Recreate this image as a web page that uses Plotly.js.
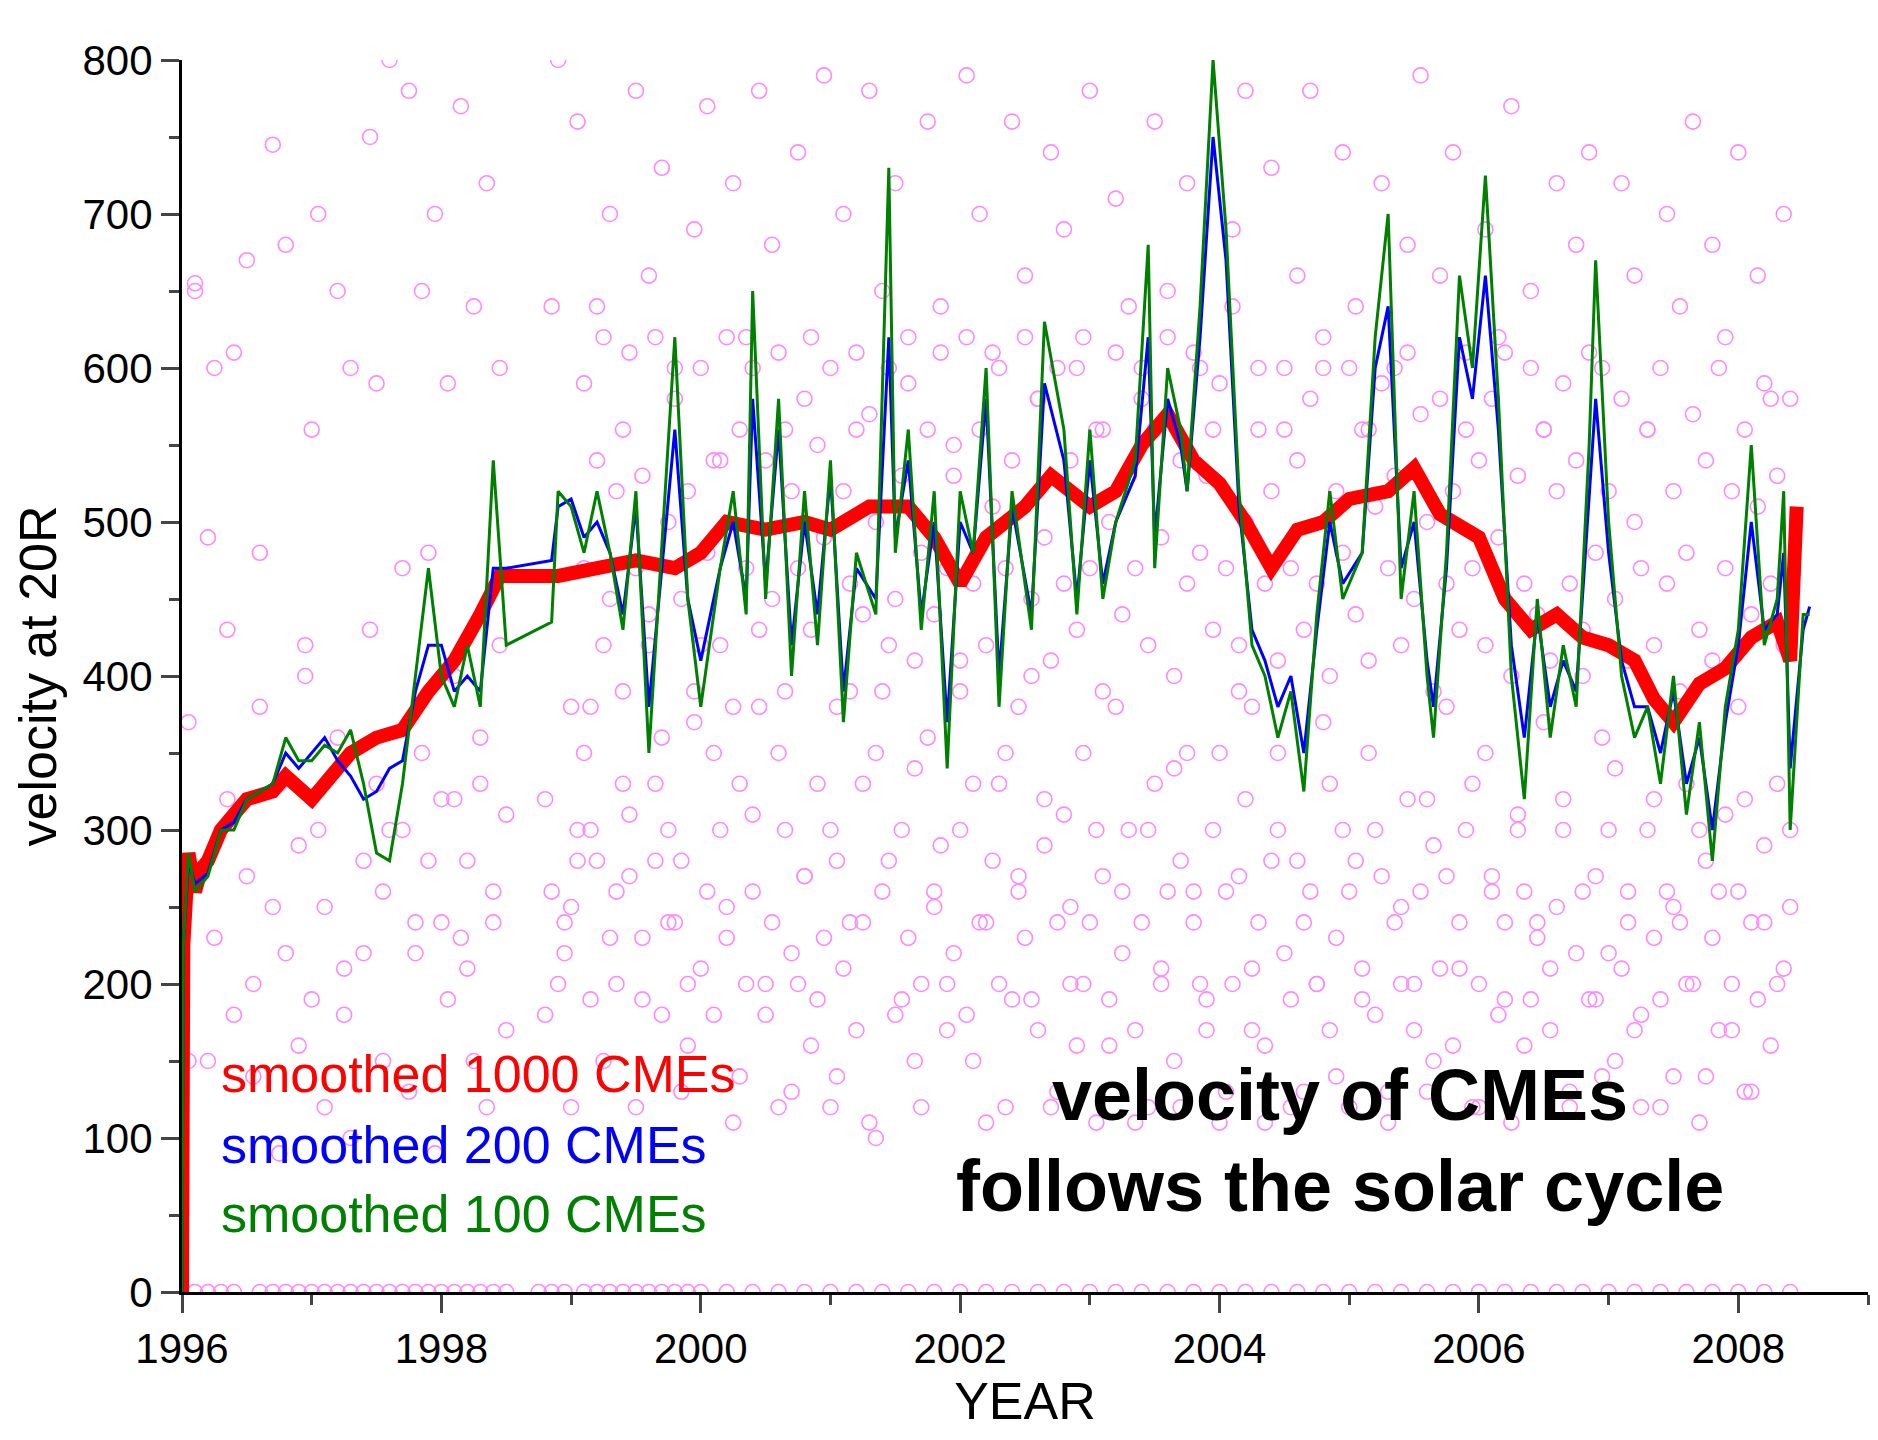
<!DOCTYPE html>
<html><head><meta charset="utf-8">
<script src="https://cdn.plot.ly/plotly-3.0.1.min.js"></script>
<style>body{margin:0;background:#fff}#c{width:1878px;height:1440px}</style>
</head><body><div id="c"></div>
<script>
// individual CMEs (subset)
const cmeYear = [1996.05,1996.1,1996.2,1996.25,1996.35,1996.4,1996.5,1996.55,1996.6,1996.7,1996.75,1996.8,1996.9,1996.95,1997.0,1997.05,1997.1,1997.2,1997.25,1997.3,1997.4,1997.45,1997.5,1997.55,1997.6,1997.7,1997.75,1997.8,1997.85,1997.9,1997.95,1998.0,1998.05,1998.1,1998.15,1998.2,1998.25,1998.3,1998.35,1998.4,1998.45,1998.5,1998.8,1998.85,1998.9,1998.95,1999.0,1999.05,1999.1,1999.15,1999.2,1999.25,1999.3,1999.35,1999.4,1999.45,1999.5,1999.55,1999.6,1999.65,1999.7,1999.75,1999.8,1999.85,1999.9,1999.95,2000.0,2000.05,2000.1,2000.15,2000.2,2000.25,2000.3,2000.35,2000.4,2000.45,2000.5,2000.55,2000.6,2000.65,2000.7,2000.75,2000.8,2000.85,2000.9,2000.95,2001.0,2001.05,2001.1,2001.15,2001.2,2001.25,2001.3,2001.35,2001.4,2001.45,2001.5,2001.55,2001.6,2001.65,2001.7,2001.75,2001.8,2001.85,2001.9,2001.95,2002.0,2002.05,2002.1,2002.15,2002.2,2002.25,2002.3,2002.35,2002.4,2002.45,2002.5,2002.55,2002.6,2002.65,2002.7,2002.75,2002.8,2002.85,2002.9,2002.95,2003.0,2003.05,2003.1,2003.15,2003.2,2003.25,2003.3,2003.35,2003.4,2003.45,2003.5,2003.55,2003.6,2003.65,2003.7,2003.75,2003.8,2003.85,2003.9,2003.95,2004.0,2004.05,2004.1,2004.15,2004.2,2004.25,2004.3,2004.35,2004.4,2004.45,2004.5,2004.55,2004.6,2004.65,2004.7,2004.75,2004.8,2004.85,2004.9,2004.95,2005.0,2005.05,2005.1,2005.15,2005.2,2005.25,2005.3,2005.35,2005.4,2005.45,2005.5,2005.55,2005.6,2005.65,2005.7,2005.75,2005.8,2005.85,2005.9,2005.95,2006.0,2006.05,2006.1,2006.15,2006.2,2006.25,2006.3,2006.35,2006.4,2006.45,2006.5,2006.55,2006.6,2006.65,2006.7,2006.75,2006.8,2006.85,2006.9,2006.95,2007.0,2007.05,2007.1,2007.15,2007.2,2007.25,2007.3,2007.35,2007.4,2007.45,2007.5,2007.55,2007.6,2007.65,2007.7,2007.75,2007.8,2007.85,2007.9,2007.95,2008.0,2008.05,2008.1,2008.15,2008.2,2008.25,2008.3,2008.35,2008.4];
const cmeVel1 = [370,655,490,600,430,610,670,200,480,745,330,680,290,420,560,700,250,650,180,600,220,750,590,260,800,300,780,220,650,480,700,240,590,320,770,210,640,330,720,260,600,170,320,640,800,220,250,760,590,300,640,150,700,260,560,310,780,190,660,330,730,240,600,280,160,690,210,770,350,540,250,720,140,620,310,780,200,680,350,560,130,740,270,620,190,790,300,140,700,240,560,330,780,100,650,280,720,190,590,340,120,760,260,640,200,550,300,790,150,700,240,610,330,120,760,270,660,190,580,320,740,130,690,250,600,200,780,300,560,160,710,260,640,110,580,300,760,210,650,340,120,720,260,600,190,560,350,130,690,270,780,210,600,160,730,300,560,120,660,240,780,200,600,330,140,740,260,640,190,560,300,720,130,600,250,680,200,790,320,150,660,270,740,210,560,330,120,690,260,620,190,770,300,160,650,240,560,210,720,320,130,680,260,740,190,600,300,150,720,240,660,180,560,320,120,700,250,640,200,760,300,140,680,260,620,170,740,320,130,660,240,580,200,700,300,150,650];
const cmeVel2 = [150,230,320,180,270,140,380,250,90,220,160,400,190,300,120,360,210,100,280,430,330,150,300,470,130,240,350,280,90,320,190,400,230,280,150,360,120,240,420,310,180,260,200,240,380,300,350,190,280,420,230,200,330,270,120,230,420,280,180,300,240,130,200,370,420,260,180,300,230,110,330,200,260,380,180,240,120,300,220,200,270,160,330,230,120,280,210,390,170,240,110,350,260,420,180,300,230,150,200,360,250,290,170,220,410,180,330,240,110,280,200,350,190,260,230,400,170,290,120,240,310,200,160,350,240,110,270,190,380,220,300,170,240,120,330,200,260,150,280,350,240,200,170,300,110,260,200,390,320,170,240,110,280,350,220,190,280,130,260,200,370,170,230,300,120,280,210,350,180,270,110,240,200,320,170,260,130,290,210,380,160,240,300,120,200,350,270,180,240,110,310,260,190,230,370,170,250,300,120,220,400,190,270,140,220,340,210,260,170,120,300,230,190,260,140,240,330,200,110,280,230,170,310,200,260,130,240,190,290,160,330,210,250,120,280];
const cmeVel3 = [280,520,410,240,560,330,450,610,380,290,540,460,640,350,480,260,590,420,310,510,640,390,480,350,560,440,620,380,520,590,410,670,350,470,540,390,500,610,430,560,350,470,560,440,520,600,470,380,540,620,450,520,390,610,470,530,440,620,360,500,580,450,520,390,600,480,540,420,620,380,560,470,600,430,540,450,610,390,520,470,580,430,550,490,600,380,520,460,610,440,570,500,390,600,450,530,620,410,480,560,440,610,470,530,390,620,460,560,420,510,600,470,540,380,620,450,580,490,410,600,460,540,430,620,470,560,390,500,610,440,530,470,600,420,560,490,620,400,540,460,610,480,530,430,590,470,640,420,500,380,560,460,520,410,600,470,540,430,580,460,620,400,520,480,600,440,560,410,510,590,470,530,420,610,450,570,500,390,580,460,520,430,610,470,540,420,580,490,610,400,530,460,600,440,560,410,520,590,460,540,430,610,480,360,520,450,580,410,500,470,560,420,600,460,520,390,480,570,430,540,410,600,470,520,380,560,440,510,590,460,530,420,580];
const cmeZeroYear = [1996.1,1996.2,1996.3,1996.4,1996.6,1996.7,1996.8,1996.9,1997.0,1997.1,1997.2,1997.3,1997.4,1997.5,1997.6,1997.7,1997.8,1997.9,1998.0,1998.1,1998.2,1998.3,1998.4,1998.5,1998.75,1998.85,1998.95,1999.1,1999.2,1999.3,1999.4,1999.5,1999.6,1999.7,1999.8,1999.9,2000.0,2000.2,2000.4,2000.6,2000.8,2001.0,2001.2,2001.4,2001.6,2001.8,2002.0,2002.2,2002.4,2002.6,2002.8,2003.0,2003.2,2003.4,2003.6,2003.8,2004.0,2004.2,2004.4,2004.6,2004.8,2005.0,2005.2,2005.4,2005.6,2005.8,2006.0,2006.2,2006.4,2006.6,2006.8,2007.0,2007.2,2007.4,2007.6,2007.8,2008.0,2008.2,2008.4];

// smoothed over 1000 CMEs
const redYear = [1996.0,1996.01,1996.05,1996.1,1996.15,1996.2,1996.3,1996.5,1996.7,1996.8,1997.0,1997.1,1997.3,1997.5,1997.7,1997.9,1998.1,1998.3,1998.45,1998.9,1999.2,1999.5,1999.8,2000.0,2000.2,2000.5,2000.8,2001.0,2001.3,2001.6,2001.8,2002.0,2002.2,2002.5,2002.7,2003.0,2003.2,2003.4,2003.6,2003.8,2004.0,2004.2,2004.4,2004.6,2004.8,2005.0,2005.3,2005.5,2005.7,2006.0,2006.2,2006.4,2006.6,2006.8,2007.0,2007.2,2007.35,2007.5,2007.7,2007.9,2008.1,2008.3,2008.4,2008.45];
const redVel = [0,225,285,260,275,280,300,320,325,335,320,330,350,360,365,390,410,440,465,465,470,475,470,480,500,495,500,495,510,510,490,460,490,510,530,510,520,550,570,540,525,500,470,495,500,515,520,535,505,490,450,430,440,425,420,410,385,370,395,405,425,435,410,510];
// smoothed over 200 CMEs
const blueYear = [1996.0,1996.01,1996.05,1996.1,1996.2,1996.3,1996.4,1996.5,1996.7,1996.8,1996.9,1997.0,1997.1,1997.2,1997.3,1997.4,1997.5,1997.6,1997.7,1997.8,1997.9,1998.0,1998.1,1998.2,1998.3,1998.4,1998.5,1998.85,1998.9,1999.0,1999.1,1999.2,1999.3,1999.4,1999.5,1999.6,1999.8,1999.9,2000.0,2000.15,2000.25,2000.35,2000.4,2000.5,2000.6,2000.7,2000.8,2000.9,2001.0,2001.1,2001.2,2001.35,2001.45,2001.5,2001.6,2001.7,2001.8,2001.9,2002.0,2002.1,2002.2,2002.3,2002.4,2002.55,2002.65,2002.8,2002.9,2003.0,2003.1,2003.2,2003.35,2003.45,2003.5,2003.6,2003.7,2003.75,2003.85,2003.95,2004.05,2004.15,2004.25,2004.35,2004.45,2004.55,2004.65,2004.75,2004.85,2004.95,2005.1,2005.2,2005.3,2005.4,2005.5,2005.6,2005.65,2005.75,2005.85,2005.95,2006.05,2006.15,2006.25,2006.35,2006.45,2006.55,2006.65,2006.75,2006.85,2006.9,2007.0,2007.1,2007.2,2007.3,2007.4,2007.5,2007.6,2007.7,2007.8,2007.9,2008.0,2008.1,2008.2,2008.3,2008.35,2008.4,2008.5,2008.55];
const blueVel = [0,225,280,265,272,300,305,320,330,350,340,350,360,345,335,320,325,340,345,390,420,420,390,400,390,470,470,475,510,515,490,500,480,440,510,380,560,450,410,470,500,450,580,460,560,420,500,440,530,390,470,450,620,490,540,440,500,370,500,480,580,400,510,440,590,540,450,540,460,500,530,620,490,580,550,520,620,750,670,510,430,410,380,400,350,430,500,460,480,600,640,470,500,410,380,470,620,580,660,560,420,360,440,380,410,390,520,580,480,410,380,380,350,390,330,360,300,370,420,500,430,440,480,340,430,445];
// smoothed over 100 CMEs
const greenYear = blueYear;
const greenVel = [0,225,285,260,270,300,300,320,330,360,345,345,355,350,365,330,285,280,330,400,470,400,380,420,380,540,420,435,520,510,480,520,480,430,520,350,620,450,380,470,520,440,650,450,580,400,520,420,540,370,480,440,730,480,560,430,520,340,520,480,600,380,520,430,630,560,440,560,450,500,540,680,470,600,560,520,640,800,690,520,420,400,360,390,325,440,520,450,480,620,700,450,520,400,360,480,660,600,725,580,400,320,450,360,420,380,550,670,500,400,360,380,330,400,310,370,280,380,430,550,420,450,520,300,440,440];

const pink = '#ff88ff';
const traces = [
  {x: cmeYear.concat(cmeYear, cmeYear.slice(46), cmeZeroYear), y: cmeVel1.concat(cmeVel2, cmeVel3.slice(46), cmeZeroYear.map(()=>0)), mode:'markers', type:'scatter',
   marker:{symbol:'circle-open', size:15, color:pink, line:{width:1.6, color:pink}}, hoverinfo:'skip'},
  {x: redYear, y: redVel, mode:'lines', line:{color:'#ff0000', width:14}},
  {x: blueYear, y: blueVel, mode:'lines', line:{color:'#0000ff', width:3}},
  {x: greenYear, y: greenVel, mode:'lines', line:{color:'#008000', width:3}}
];
const F = 'Liberation Sans, Arial, sans-serif';
const layout = {
  width:1878, height:1440, showlegend:false,
  paper_bgcolor:'#fff', plot_bgcolor:'#fff',
  margin:{l:182, r:10, t:60, b:148},
  xaxis:{range:[1996,2009], tickvals:[1996,1998,2000,2002,2004,2006,2008], ticks:'outside', ticklen:18, tickwidth:3,
    minor:{dtick:1, tick0:1996, ticks:'outside', ticklen:10, tickwidth:3}, showgrid:false, zeroline:false,
    showline:true, linewidth:3, linecolor:'#000', tickfont:{family:F, size:42, color:'#000'},
    title:{text:'YEAR', font:{family:F, size:52, color:'#000'}, standoff:0}},
  yaxis:{range:[0,800], dtick:100, ticks:'outside', ticklen:18, tickwidth:3,
    minor:{dtick:50, ticks:'outside', ticklen:10, tickwidth:3}, showgrid:false, zeroline:false,
    showline:true, linewidth:3, linecolor:'#000', tickfont:{family:F, size:42, color:'#000'},
    title:{text:'velocity at 20R', font:{family:F, size:52, color:'#000'}, standoff:10}},
  annotations:[
    {xref:'paper', yref:'paper', x:0.022, y:0.177, xanchor:'left', yanchor:'middle', showarrow:false, text:'smoothed 1000 CMEs', font:{family:F, size:52, color:'#ff0000'}},
    {xref:'paper', yref:'paper', x:0.022, y:0.119, xanchor:'left', yanchor:'middle', showarrow:false, text:'smoothed 200 CMEs', font:{family:F, size:52, color:'#0000ff'}},
    {xref:'paper', yref:'paper', x:0.022, y:0.063, xanchor:'left', yanchor:'middle', showarrow:false, text:'smoothed 100 CMEs', font:{family:F, size:52, color:'#008000'}},
    {xref:'paper', yref:'paper', x:0.687, y:0.16, xanchor:'center', yanchor:'middle', showarrow:false, text:'<b>velocity of CMEs</b>', font:{family:F, size:72, color:'#000'}},
    {xref:'paper', yref:'paper', x:0.687, y:0.086, xanchor:'center', yanchor:'middle', showarrow:false, text:'<b>follows the solar cycle</b>', font:{family:F, size:72, color:'#000'}}
  ]
};
Plotly.newPlot('c', traces, layout, {staticPlot:true});
</script></body></html>
